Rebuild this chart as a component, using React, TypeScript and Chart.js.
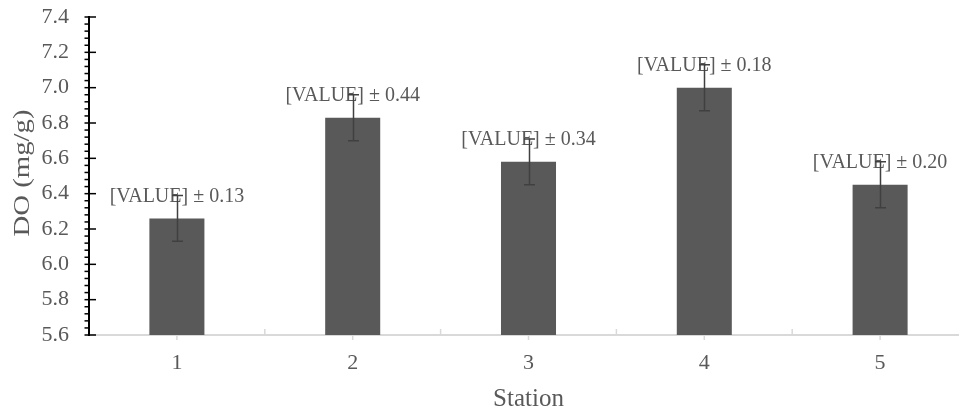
import React, { useEffect, useRef } from "react";
import { Chart, registerables } from "chart.js";

Chart.register(...registerables);

// ---- data ----
const stations = ["1", "2", "3", "4", "5"];
const doMeans = [6.26, 6.83, 6.58, 7.0, 6.45];
const errorBars = [0.13, 0.13, 0.13, 0.13, 0.13];
const sdLabels = ["0.13", "0.44", "0.34", "0.18", "0.20"];
const yMin = 5.6;
const yMax = 7.4;
const yStep = 0.2;
const yMinorStep = 0.04;
const xTitle = "Station";
const yTitle = "DO (mg/g)";

const FONT = "'Liberation Serif', 'Times New Roman', serif";
const GRAY = "#595959";
const ERR = "#404040";

export default function App() {
  const ref = useRef<HTMLCanvasElement>(null);

  useEffect(() => {
    if (!ref.current) return;

    const decor = {
      id: "decor",
      afterDatasetsDraw(chart: any) {
        const { ctx, scales } = chart;
        const y = scales.y;
        const meta = chart.getDatasetMeta(0);
        ctx.save();
        // labels
        ctx.font = `20px ${FONT}`;
        ctx.fillStyle = GRAY;
        ctx.textAlign = "center";
        ctx.textBaseline = "middle";
        meta.data.forEach((bar: any, i: number) => {
          const top = y.getPixelForValue(doMeans[i]);
          ctx.fillText(`[VALUE] \u00b1 ${sdLabels[i]}`, bar.x, top - 22);
        });
        // error bars
        ctx.strokeStyle = ERR;
        ctx.lineWidth = 1.5;
        meta.data.forEach((bar: any, i: number) => {
          const hi = y.getPixelForValue(doMeans[i] + errorBars[i]);
          const lo = y.getPixelForValue(doMeans[i] - errorBars[i]);
          const cx = Math.round(bar.x) + 0.5;
          ctx.beginPath();
          ctx.moveTo(cx, hi);
          ctx.lineTo(cx, lo);
          ctx.moveTo(cx - 5.5, hi);
          ctx.lineTo(cx + 5.5, hi);
          ctx.moveTo(cx - 5.5, lo);
          ctx.lineTo(cx + 5.5, lo);
          ctx.stroke();
        });
        ctx.restore();
      },
      afterDraw(chart: any) {
        const { ctx, chartArea, scales } = chart;
        const x = scales.x;
        const y = scales.y;
        ctx.save();
        // y-axis ticks
        ctx.strokeStyle = "#000";
        ctx.lineWidth = 1.5;
        const n = Math.round((yMax - yMin) / yMinorStep);
        const per = Math.round(yStep / yMinorStep);
        for (let i = 0; i <= n; i++) {
          const v = yMin + i * yMinorStep;
          const py = y.getPixelForValue(v);
          const major = i % per === 0;
          ctx.beginPath();
          ctx.moveTo(chartArea.left - 4.5, py);
          ctx.lineTo(chartArea.left + (major ? 7 : 0), py);
          ctx.stroke();
        }
        // x-axis ticks
        ctx.strokeStyle = "#d9d9d9";
        ctx.lineWidth = 1.5;
        const b = chartArea.bottom;
        for (let i = 0; i < stations.length; i++) {
          const cx = x.getPixelForValue(i);
          ctx.beginPath();
          ctx.moveTo(cx, b);
          ctx.lineTo(cx, b + 5);
          ctx.stroke();
          const bx = x.getPixelForValue(i + 0.5);
          ctx.beginPath();
          ctx.moveTo(bx, b - 6);
          ctx.lineTo(bx, b);
          ctx.stroke();
        }
        // axis titles
        ctx.fillStyle = GRAY;
        ctx.textAlign = "center";
        ctx.textBaseline = "alphabetic";
        ctx.font = `25px ${FONT}`;
        ctx.fillText(xTitle, (chartArea.left + chartArea.right) / 2, 406);
        ctx.save();
        ctx.translate(29, (chartArea.top + chartArea.bottom) / 2 - 3);
        ctx.rotate(-Math.PI / 2);
        ctx.scale(1.2, 1);
        ctx.font = `24px ${FONT}`;
        ctx.fillText(yTitle, 0, 0);
        ctx.restore();
        ctx.restore();
      },
    };

    const chart = new Chart(ref.current, {
      type: "bar",
      data: {
        labels: stations,
        datasets: [
          {
            data: doMeans,
            backgroundColor: GRAY,
            borderWidth: 0,
            barPercentage: 1,
            categoryPercentage: 0.313,
          },
        ],
      },
      options: {
        animation: false,
        responsive: false,
        maintainAspectRatio: false,
        devicePixelRatio: 1,
        layout: { padding: { top: 17, left: 0, right: 0, bottom: 0 }, autoPadding: false },
        plugins: { legend: { display: false }, tooltip: { enabled: false } },
        scales: {
          x: {
            grid: { display: false, drawTicks: false },
            border: { display: true, color: "#d9d9d9", width: 2 },
            ticks: { color: GRAY, font: { family: FONT, size: 22 }, padding: 15 },
            afterFit: (s: any) => {
              s.height = 76;
              s.paddingLeft = 0;
              s.paddingRight = 0;
            },
          },
          y: {
            min: yMin,
            max: yMax,
            grid: { display: false, drawTicks: false },
            border: { display: true, color: "#000", width: 2 },
            ticks: {
              stepSize: yStep,
              color: GRAY,
              font: { family: FONT, size: 22 },
              padding: 20,
              callback: (v: any) => Number(v).toFixed(1),
            },
            afterFit: (s: any) => {
              s.width = 89;
              s.paddingTop = 0;
              s.paddingBottom = 0;
            },
          },
        },
      },
      plugins: [decor],
    });
    return () => chart.destroy();
  }, []);

  return (
    <div
      style={{
        position: "absolute",
        left: 0,
        top: 0,
        width: 959,
        height: 411,
        overflow: "hidden",
        background: "#fff",
      }}
    >
      <canvas ref={ref} width={968} height={411} style={{ width: 968, height: 411, display: "block" }} />
    </div>
  );
}
